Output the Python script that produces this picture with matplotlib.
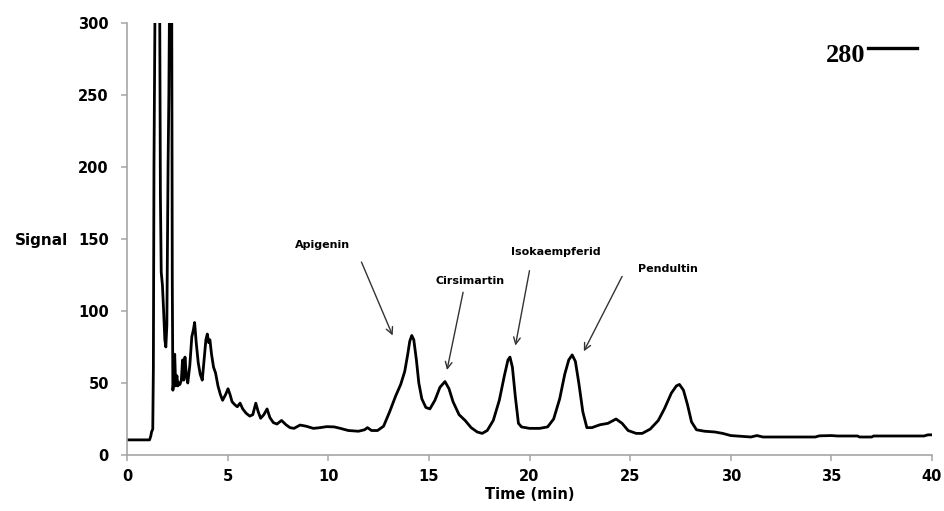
import matplotlib
matplotlib.use("Agg")
import matplotlib.pyplot as plt

# chromatogram trace (time in min, signal)
time_min = [
    0.0, 1.12, 1.18, 1.22, 1.28, 1.31, 1.34, 1.40, 1.62, 1.66, 1.70, 1.76, 1.82,
    1.88, 1.93, 1.98, 2.04, 2.08, 2.12, 2.22, 2.25, 2.28, 2.33, 2.37, 2.42, 2.48,
    2.53, 2.58, 2.63, 2.70, 2.76, 2.82, 2.88, 2.95, 3.02, 3.12, 3.22, 3.30, 3.36,
    3.44, 3.54, 3.64, 3.74, 3.84, 3.92, 3.99, 4.06, 4.12, 4.20, 4.30, 4.40, 4.52,
    4.64, 4.75, 4.90, 5.02, 5.12, 5.22, 5.35, 5.48, 5.62, 5.75, 5.92, 6.10, 6.25,
    6.40, 6.52, 6.64, 6.80, 6.96, 7.10, 7.27, 7.45, 7.68, 7.90, 8.10, 8.30, 8.60,
    8.90, 9.26, 9.60, 9.92, 10.3, 10.6, 11.0, 11.5, 11.8, 11.95, 12.15, 12.45,
    12.75, 13.05, 13.35, 13.6, 13.8, 13.95, 14.05, 14.15, 14.25, 14.38, 14.5,
    14.65, 14.85, 15.05, 15.3, 15.55, 15.8, 16.0, 16.2, 16.5, 16.8, 17.1, 17.4,
    17.65, 17.9, 18.2, 18.5, 18.75, 18.93, 19.03, 19.15, 19.3, 19.45, 19.6, 20.0,
    20.5, 20.9, 21.2, 21.5, 21.75, 21.95, 22.12, 22.28, 22.45, 22.65, 22.85, 23.1,
    23.5, 23.9, 24.3, 24.6, 24.9, 25.3, 25.6, 26.0, 26.4, 26.7, 27.05, 27.3,
    27.45, 27.65, 27.85, 28.05, 28.3, 28.7, 29.2, 29.6, 30.0, 30.5, 31.0, 31.3,
    31.6, 34.2, 34.4, 35.0, 35.3, 36.3, 36.4, 37.0, 37.1, 39.6, 39.8, 40.0,
]
signal = [
    10.5, 10.5, 13, 16, 18, 60, 200, 330, 330, 180, 127, 118, 100,
    80, 75, 90, 200, 250, 330, 330, 120, 45, 52, 70, 48, 55,
    48, 50, 49, 52, 66, 52, 68, 55, 50, 62, 82, 87, 92,
    78, 64, 56, 52, 68, 80, 84, 78, 80, 70, 61, 57, 48,
    42, 38, 42, 46, 42, 37, 35, 33.5, 36, 32, 29, 27, 28,
    36, 30, 25.5, 28, 32, 26, 22.5, 21.5, 24, 21, 19, 18.5, 20.8,
    20, 18.5, 19, 19.7, 19.5, 18.5, 17, 16.5, 17.5, 19, 17, 17,
    20, 30, 41, 49, 58, 70, 79, 83, 80, 66, 50,
    39, 33, 32, 38, 47, 51, 46, 37, 28, 24, 19, 16,
    15, 17, 24, 38, 55, 66, 68, 61, 40, 22, 19.5, 18.5,
    18.5, 19.5, 25, 39, 56, 66, 69.5, 65, 50, 30, 19, 19,
    21, 22, 25, 22, 17, 15, 15, 18, 24, 32, 43, 48,
    49, 45, 35, 23, 17.5, 16.5, 16, 15, 13.5, 13, 12.5, 13.5,
    12.5, 12.5, 13.3, 13.5, 13.2, 13.2, 12.5, 12.5, 13.2, 13.2, 14, 14,
]

# peak annotations
peak_names = ["Apigenin", "Cirsimartin", "Isokaempferid", "Pendultin"]
label_x = [9.7, 17.05, 21.3, 26.9]
label_y = [146, 121, 141, 129]
arrow_tail = [(11.65, 134), (16.7, 113), (20.0, 128), (24.6, 124)]
arrow_head = [(13.2, 83), (15.9, 59), (19.3, 76), (22.7, 72)]

fig = plt.figure(figsize=(9.44, 5.11), dpi=100)
ax = fig.add_axes([127 / 944, 1 - 455 / 511, (932 - 127) / 944, (455 - 23) / 511])

ax.plot(time_min, signal, color="black", lw=2.0, solid_joinstyle="round")

ax.set_xlim(0, 40)
ax.set_ylim(0, 300)
ax.set_xticks(range(0, 41, 5))
ax.set_yticks(range(0, 301, 50))
for side in ("top", "right"):
    ax.spines[side].set_visible(False)
for side in ("left", "bottom"):
    ax.spines[side].set_color("#a6a6a6")
    ax.spines[side].set_linewidth(1.2)
ax.tick_params(axis="both", color="#a6a6a6", length=4, width=1.1,
               labelsize=10.5, labelcolor="black")
ax.tick_params(axis="y", pad=9)
ax.tick_params(axis="x", pad=6)
for lab in ax.get_xticklabels() + ax.get_yticklabels():
    lab.set_fontweight("bold")

ax.set_xlabel("Time (min)", fontsize=10.5, fontweight="bold", labelpad=2)
fig.text(41 / 944, 1 - 240 / 511, "Signal", fontsize=11, fontweight="bold",
         ha="center", va="center")

for name, lx, ly, tail, head in zip(peak_names, label_x, label_y, arrow_tail, arrow_head):
    ax.text(lx, ly, name, fontsize=8, fontweight="bold", family="DejaVu Sans",
            ha="center", va="center")
    ax.annotate("", xy=head, xytext=tail,
                arrowprops=dict(arrowstyle="->", color="#333333", lw=1.0,
                                mutation_scale=12, shrinkA=0, shrinkB=0))

# wavelength legend (top right)
fig.text(846 / 944, 1 - 56 / 511, "280", family="Liberation Serif", fontsize=19,
         fontweight="bold", ha="center", va="center")
fig.add_artist(plt.Line2D([868 / 944, 917 / 944], [1 - 48 / 511, 1 - 48 / 511],
                          color="black", lw=2.4))

fig.savefig("out.png", dpi=100)
